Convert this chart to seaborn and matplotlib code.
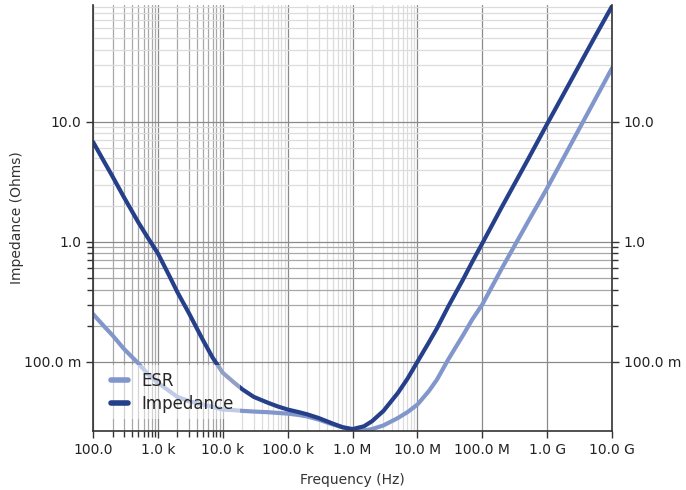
import numpy as np
import pandas as pd
import seaborn as sns
import matplotlib.pyplot as plt

# valores
freq = [1e2, 1.5e2, 2e2, 3e2, 5e2, 7e2,
        1e3, 1.5e3, 2e3, 3e3, 5e3, 7e3,
        1e4, 1.5e4, 2e4, 3e4, 5e4, 7e4,
        1e5, 1.5e5, 2e5, 3e5, 5e5, 7e5,
        1e6, 1.5e6, 2e6, 3e6, 5e6, 7e6,
        1e7, 1.5e7, 2e7, 3e7, 5e7, 7e7,
        1e8, 2e8, 5e8, 1e9, 2e9, 5e9, 1e10]
impedance = [6.8, 4.6, 3.5, 2.35, 1.45, 1.08,
             0.80, 0.52, 0.38, 0.255, 0.15, 0.108,
             0.081, 0.067, 0.059, 0.051, 0.0455, 0.0425,
             0.040, 0.038, 0.0365, 0.034, 0.0305, 0.0285,
             0.0275, 0.029, 0.032, 0.039, 0.055, 0.072,
             0.10, 0.145, 0.19, 0.29, 0.48, 0.68,
             0.97, 1.95, 4.8, 9.6, 19.0, 47.0, 92.0]
esr = [0.25, 0.196, 0.166, 0.128, 0.097, 0.079,
       0.067, 0.057, 0.051, 0.047, 0.044, 0.042,
       0.040, 0.0395, 0.039, 0.0385, 0.038, 0.0375,
       0.037, 0.036, 0.035, 0.033, 0.030, 0.0285,
       0.027, 0.0268, 0.0275, 0.0295, 0.034, 0.038,
       0.044, 0.057, 0.071, 0.105, 0.165, 0.225,
       0.30, 0.6, 1.45, 2.8, 5.6, 14.0, 28.0]

x_ticks = [1e2, 1e3, 1e4, 1e5, 1e6, 1e7, 1e8, 1e9, 1e10]
x_labels = ['100.0', '1.0 k', '10.0 k', '100.0 k', '1.0 M', '10.0 M', '100.0 M', '1.0 G', '10.0 G']
y_ticks = [0.1, 1.0, 10.0]
y_labels = ['100.0 m', '1.0', '10.0']

data = pd.DataFrame({'freq': freq, 'ESR': esr, 'Impedance': impedance})

esr_color = '#8197cc'
imp_color = '#263f8a'

sns.set_style('white')
plt.rcParams['font.family'] = ['DejaVu Sans']

fig = plt.figure(figsize=(6.86, 4.9), dpi=100)
ax = fig.add_axes([0.1356, 0.1204, 0.7566, 0.8694])

sns.lineplot(data=data, x='freq', y='ESR', color=esr_color, lw=3, label='ESR', ax=ax)
sns.lineplot(data=data, x='freq', y='Impedance', color=imp_color, lw=3, label='Impedance', ax=ax)

ax.set_xscale('log')
ax.set_yscale('log')
ax.set_xlim(1e2, 1e10)
ax.set_ylim(0.0265, 94)

ax.set_xticks(x_ticks, x_labels)
ax.set_yticks(y_ticks, y_labels)

# ticks menores: solo donde el original tiene lineas de rejilla
x_minor = [m * 10.0 ** k for k in range(2, 7) for m in range(2, 10)]
y_minor = [m * 10.0 ** k for k in range(-1, 2) for m in range(2, 10) if m * 10.0 ** k < 94]
ax.set_xticks(x_minor, minor=True)
ax.set_yticks(y_minor, minor=True)
ax.tick_params(which='minor', labelbottom=False, labelleft=False)

ax.grid(True, which='major', color='#8a8a8a', lw=0.9)
ax.grid(True, which='minor', color='#dcdcdc', lw=0.9)

ax.tick_params(which='major', direction='out', length=5, width=1, color='#333333',
               labelsize=10, labelcolor='#222222', left=True, right=True, bottom=True,
               labelright=True)
ax.tick_params(which='minor', direction='out', length=4, width=1, color='#333333',
               left=True, right=True, bottom=True)

# marcas y rejilla mas oscura solo en algunas decadas
fig.canvas.draw()
for t, v in zip(ax.xaxis.get_minor_ticks(len(x_minor)), x_minor):
    if v < 1e4:
        t.gridline.set_color('#a8a8a8')
    else:
        t.tick1line.set_visible(False)
for t, v in zip(ax.yaxis.get_minor_ticks(len(y_minor)), y_minor):
    if v < 1:
        t.gridline.set_color('#a8a8a8')
    else:
        t.tick1line.set_visible(False)
        t.tick2line.set_visible(False)

for s in ['left', 'bottom', 'right']:
    ax.spines[s].set_visible(True)
    ax.spines[s].set_color('#333333')
    ax.spines[s].set_linewidth(1.2)
ax.spines['top'].set_visible(False)

ax.set_xlabel('Frequency (Hz)', fontsize=10, color='#333333', labelpad=12)
ax.set_ylabel('Impedance (Ohms)', fontsize=10, color='#333333', labelpad=0)

leg = ax.legend(loc='lower left', bbox_to_anchor=(0.0, 0.0), fontsize=12,
                frameon=True, framealpha=0.5, edgecolor='none', facecolor='white',
                handlelength=1.0, handletextpad=0.8, borderaxespad=0.7, labelspacing=0.3)
for line in leg.get_lines():
    line.set_linewidth(4)

fig.savefig('out.png', dpi=100)
plt.close()
